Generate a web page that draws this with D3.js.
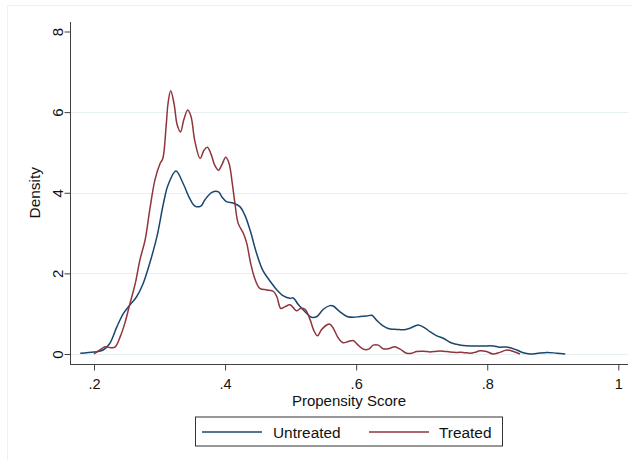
<!DOCTYPE html>
<html>
<head>
<meta charset="utf-8">
<script src="https://cdn.jsdelivr.net/npm/d3@7/dist/d3.min.js"></script>
<style>
  html, body { margin: 0; padding: 0; background: #fff; }
  svg { display: block; font-family: "Liberation Sans", Arial, sans-serif; }
</style>
</head>
<body>
<svg id="chart" width="637" height="460"></svg>
<script>
// Kernel density of propensity scores, by treatment group: [score, density]
const untreated = [
  [0.179, 0.02], [0.200, 0.05], [0.214, 0.10], [0.224, 0.26], [0.235, 0.68],
  [0.245, 1.01], [0.255, 1.22], [0.265, 1.42], [0.275, 1.75], [0.285, 2.25],
  [0.296, 2.91], [0.306, 3.74], [0.313, 4.19], [0.325, 4.54], [0.336, 4.23],
  [0.346, 3.86], [0.354, 3.67], [0.363, 3.67], [0.369, 3.82], [0.380, 4.01],
  [0.390, 4.02], [0.395, 3.90], [0.402, 3.78], [0.413, 3.74], [0.423, 3.65],
  [0.430, 3.45], [0.438, 3.08], [0.448, 2.50], [0.458, 2.06], [0.469, 1.80],
  [0.479, 1.59], [0.489, 1.44], [0.499, 1.38], [0.504, 1.39], [0.512, 1.22],
  [0.522, 1.05], [0.532, 0.91], [0.540, 0.93], [0.550, 1.11], [0.560, 1.20],
  [0.565, 1.19], [0.575, 1.05], [0.586, 0.93], [0.596, 0.91], [0.606, 0.93],
  [0.616, 0.94], [0.624, 0.96], [0.631, 0.84], [0.641, 0.70], [0.652, 0.62],
  [0.662, 0.61], [0.672, 0.60], [0.682, 0.64], [0.695, 0.72], [0.705, 0.64],
  [0.713, 0.55], [0.723, 0.45], [0.733, 0.39], [0.743, 0.29], [0.753, 0.24],
  [0.763, 0.21], [0.779, 0.20], [0.794, 0.20], [0.809, 0.20], [0.819, 0.17],
  [0.832, 0.17], [0.845, 0.10], [0.855, 0.03], [0.865, 0.00], [0.875, 0.01],
  [0.891, 0.04], [0.906, 0.02], [0.919, 0.00]
];

const treated = [
  [0.200, 0.00], [0.209, 0.10], [0.217, 0.18], [0.224, 0.16], [0.232, 0.17],
  [0.240, 0.43], [0.247, 0.76], [0.255, 1.26], [0.263, 1.75], [0.270, 2.33],
  [0.278, 2.83], [0.285, 3.57], [0.293, 4.32], [0.301, 4.73], [0.305, 4.85],
  [0.310, 5.64], [0.313, 6.22], [0.317, 6.53], [0.322, 6.22], [0.327, 5.68],
  [0.332, 5.51], [0.337, 5.81], [0.343, 6.05], [0.348, 5.89], [0.354, 5.27],
  [0.362, 4.85], [0.368, 5.06], [0.373, 5.13], [0.379, 4.94], [0.384, 4.69],
  [0.390, 4.56], [0.395, 4.69], [0.401, 4.88], [0.406, 4.73], [0.411, 4.23],
  [0.415, 3.74], [0.420, 3.24], [0.428, 2.99], [0.433, 2.75], [0.439, 2.25],
  [0.446, 1.84], [0.453, 1.63], [0.464, 1.59], [0.474, 1.55], [0.479, 1.42],
  [0.485, 1.13], [0.491, 1.17], [0.499, 1.22], [0.504, 1.15], [0.509, 1.07],
  [0.515, 1.13], [0.522, 1.11], [0.530, 0.84], [0.535, 0.60], [0.541, 0.45],
  [0.547, 0.60], [0.555, 0.72], [0.560, 0.74], [0.565, 0.64], [0.573, 0.39],
  [0.580, 0.28], [0.588, 0.31], [0.596, 0.33], [0.603, 0.22], [0.611, 0.12],
  [0.619, 0.12], [0.626, 0.22], [0.634, 0.22], [0.641, 0.13], [0.649, 0.13],
  [0.659, 0.18], [0.667, 0.12], [0.677, 0.02], [0.685, 0.02], [0.692, 0.06],
  [0.702, 0.07], [0.713, 0.05], [0.723, 0.07], [0.733, 0.07], [0.743, 0.05],
  [0.753, 0.04], [0.763, 0.04], [0.774, 0.02], [0.781, 0.04], [0.789, 0.08],
  [0.799, 0.06], [0.809, 0.00], [0.819, 0.04], [0.830, 0.10], [0.840, 0.06],
  [0.850, 0.00]
];

const xTicks = [0.2, 0.4, 0.6, 0.8, 1];
const yTicks = [0, 2, 4, 6, 8];
const gridTicks = [0, 2, 4, 6];
const seriesNames = ["Untreated", "Treated"];
const seriesColors = ["#1a476f", "#90353b"];

const svg = d3.select("#chart");
const W = 637, H = 460;

// Plot area (axis lines sit on its left and bottom edges)
const plot = { left: 70, right: 628, top: 22, bottom: 364 };

const x = d3.scaleLinear()
  .domain([0.16338, 1.01476])
  .range([plot.left, plot.right]);
const y = d3.scaleLinear()
  .domain([-0.2481, 8.2357])
  .range([plot.bottom, plot.top]);

// Faint graph-region frame
svg.append("line").attr("x1", 7.5).attr("x2", 633).attr("y1", 5.5).attr("y2", 5.5)
  .attr("stroke", "#f0f0f0").attr("stroke-width", 1);
svg.append("line").attr("x1", 7.5).attr("x2", 7.5).attr("y1", 5.5).attr("y2", H)
  .attr("stroke", "#f0f0f0").attr("stroke-width", 1);

// Horizontal gridlines
svg.append("g").selectAll("line").data(gridTicks).join("line")
  .attr("x1", plot.left).attr("x2", plot.right)
  .attr("y1", d => Math.round(y(d)) + 0.5).attr("y2", d => Math.round(y(d)) + 0.5)
  .attr("stroke", "#e6eff1").attr("stroke-width", 1);

// Y axis
const yAxis = d3.axisLeft(y).tickValues(yTicks).tickSize(6).tickSizeOuter(0)
  .tickFormat(d3.format("d"));
const gy = svg.append("g").attr("transform", `translate(${plot.left + 0.5},0)`).call(yAxis);
gy.select(".domain").attr("stroke", "#404040").attr("d", `M0,${plot.top}V${plot.bottom}`);
gy.selectAll(".tick line").attr("stroke", "#404040");
gy.selectAll(".tick text")
  .attr("font-size", 15).attr("fill", "#111")
  .attr("x", 0).attr("dy", 0)
  .attr("text-anchor", "middle")
  .attr("transform", "translate(-13,0) rotate(-90)")
  .attr("dominant-baseline", "central");

// X axis
const xAxis = d3.axisBottom(x).tickValues(xTicks).tickSize(6).tickSizeOuter(0)
  .tickFormat(d => d === 1 ? "1" : d3.format(".1f")(d).replace(/^0/, ""));
const gx = svg.append("g").attr("transform", `translate(0,${plot.bottom + 0.5})`).call(xAxis);
gx.select(".domain").attr("stroke", "#404040").attr("d", `M${plot.left},0H${plot.right}`);
gx.selectAll(".tick line").attr("stroke", "#404040");
gx.selectAll(".tick text")
  .attr("font-size", 14.5).attr("fill", "#111")
  .attr("y", 24.5).attr("dy", 0);

// Axis titles
svg.append("text")
  .attr("x", (plot.left + plot.right) / 2).attr("y", 406)
  .attr("text-anchor", "middle").attr("font-size", 15).attr("fill", "#111")
  .text("Propensity Score");
svg.append("text")
  .attr("transform", `translate(39.5,${y(4)}) rotate(-90)`)
  .attr("text-anchor", "middle").attr("font-size", 15.4).attr("fill", "#111")
  .text("Density");

// Density curves
const line = d3.line()
  .x(d => x(d[0])).y(d => y(d[1]))
  .curve(d3.curveCatmullRom.alpha(0.5));

[untreated, treated].forEach((series, i) => {
  svg.append("path")
    .datum(series)
    .attr("fill", "none")
    .attr("stroke", seriesColors[i])
    .attr("stroke-width", 1.5)
    .attr("stroke-linejoin", "round")
    .attr("d", line);
});

// Legend
const legend = svg.append("g");
legend.append("rect")
  .attr("x", 195.5).attr("y", 417).attr("width", 307).attr("height", 29)
  .attr("fill", "#fff").attr("stroke", "#333").attr("stroke-width", 1);
const legendItems = [
  { x1: 202, x2: 262, tx: 273 },
  { x1: 369, x2: 429, tx: 439 }
];
legendItems.forEach((it, i) => {
  legend.append("line")
    .attr("x1", it.x1).attr("x2", it.x2).attr("y1", 432).attr("y2", 432)
    .attr("stroke", seriesColors[i]).attr("stroke-width", 1.5);
  legend.append("text")
    .attr("x", it.tx).attr("y", 438)
    .attr("font-size", 15.4).attr("fill", "#111")
    .text(seriesNames[i]);
});
</script>
</body>
</html>
